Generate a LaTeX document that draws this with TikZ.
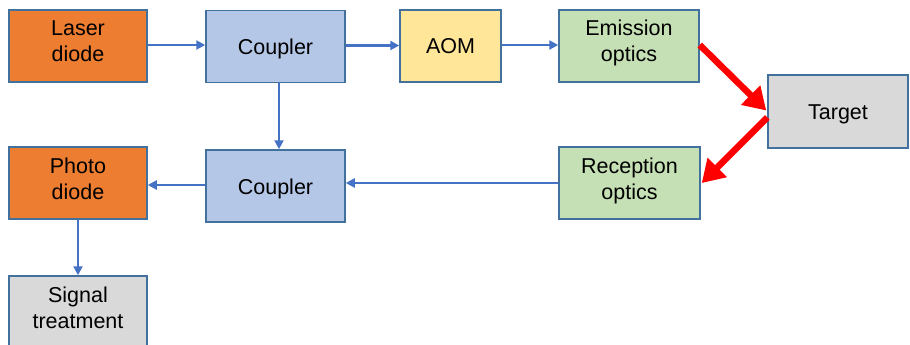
\documentclass[tikz,border=0pt]{standalone}
\usepackage{fontspec}
\setmainfont{Liberation Sans}
\usetikzlibrary{arrows.meta}
\definecolor{borderc}{HTML}{41719C}
\definecolor{orangec}{HTML}{ED7D31}
\definecolor{bluec}{HTML}{B4C7E7}
\definecolor{yellowc}{HTML}{FFE699}
\definecolor{greenc}{HTML}{C5E0B4}
\definecolor{grayc}{HTML}{D9D9D9}
\definecolor{arrowc}{HTML}{4472C4}
\tikzset{
  box/.style={draw=borderc, line width=1.5pt, inner sep=0pt, align=center,
    font=\fontsize{21.5}{26}\selectfont, minimum width=139pt, minimum height=72pt},
  oneline/.style={text height=16pt, text depth=0pt},
  twoline/.style={text height=42pt, text depth=10pt},
  flow/.style={draw=arrowc, line width=2.2pt, -{Triangle[length=9pt,width=9pt]}},
  beam/.style={draw=red, line width=6.5pt, -{Triangle[length=22pt,width=26pt]}},
}
\begin{document}
\begin{tikzpicture}[x=1pt,y=-1pt]
\useasboundingbox (0,0) rectangle (910,345);
\node[box, twoline, fill=orangec, minimum width=138pt] (ld) at (78,46) {Laser\\diode};
\node[box, oneline, fill=bluec] (c1) at (275.5,46.5) {Coupler};
\node[box, oneline, fill=yellowc, minimum width=101pt] (aom) at (450.5,46) {AOM};
\node[box, twoline, fill=greenc, minimum width=140pt] (em) at (629,46) {Emission\\optics};
\node[box, oneline, fill=grayc, minimum width=140pt, minimum height=73pt] (tg) at (838,111.5) {Target};
\node[box, twoline, fill=greenc, minimum width=141pt] (ro) at (629.5,183) {Reception\\optics};
\node[box, oneline, fill=bluec] (c2) at (275.5,186) {Coupler};
\node[box, twoline, fill=orangec, minimum width=138pt] (pd) at (78,183) {Photo\\diode};
\node[box, twoline, fill=grayc, minimum width=138pt] (sg) at (78,312) {Signal\\treatment};

\draw[flow] ([yshift=1pt]ld.east) -- ([yshift=1pt]ld.east -| c1.west);
\draw[flow] ([yshift=1pt]c1.east) -- ([yshift=1pt]c1.east -| aom.west);
\draw[flow] ([yshift=1pt]aom.east) -- ([yshift=1pt]aom.east -| em.west);
\draw[flow] ([xshift=3.5pt]c1.south) -- ([xshift=3.5pt]c1.south |- c2.north);
\draw[flow] (ro.west) -- (ro.west -| c2.east);
\draw[flow] ([yshift=1pt]c2.west) -- ([yshift=1pt]c2.west -| pd.east);
\draw[flow] (pd.south) -- (sg.north);

\draw[beam] ([yshift=1pt]em.east) -- ([xshift=-1pt,yshift=1pt]tg.west);
\draw[beam] ([yshift=-6pt]tg.west) -- ([xshift=1pt]ro.east);
\end{tikzpicture}
\end{document}
